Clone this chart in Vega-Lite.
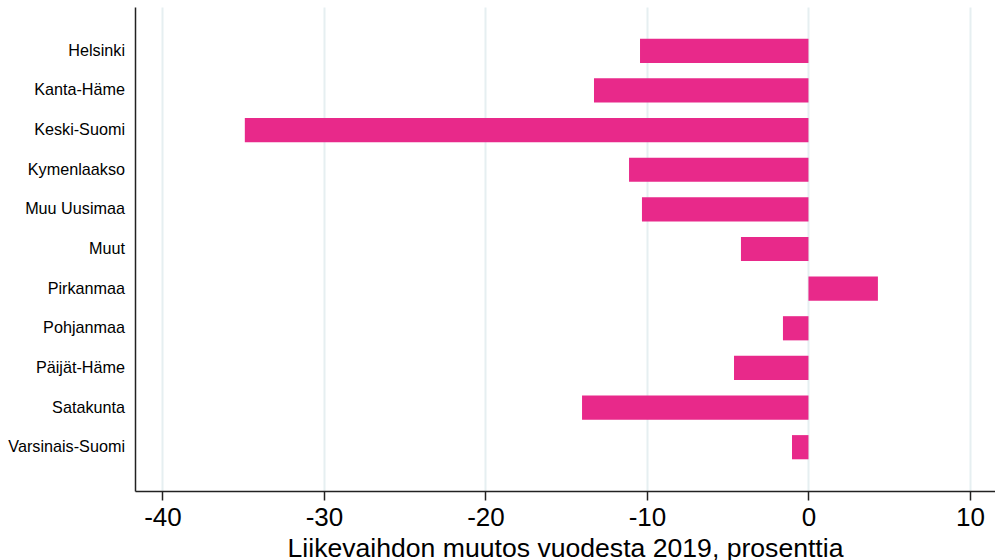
{
  "$schema": "https://vega.github.io/schema/vega-lite/v6.json",
  "autosize": {"type": "none"},
  "width": 860,
  "height": 484,
  "padding": {"left": 135, "top": 7, "right": 0, "bottom": 69},
  "background": "white",
  "config": {"view": {"stroke": null}, "font": "Liberation Sans"},
  "data": {"values": [
    {"alue": "Helsinki", "muutos": -10.43},
    {"alue": "Kanta-Häme", "muutos": -13.28},
    {"alue": "Keski-Suomi", "muutos": -34.9},
    {"alue": "Kymenlaakso", "muutos": -11.11},
    {"alue": "Muu Uusimaa", "muutos": -10.31},
    {"alue": "Muut", "muutos": -4.18},
    {"alue": "Pirkanmaa", "muutos": 4.3},
    {"alue": "Pohjanmaa", "muutos": -1.58},
    {"alue": "Päijät-Häme", "muutos": -4.61},
    {"alue": "Satakunta", "muutos": -14.02},
    {"alue": "Varsinais-Suomi", "muutos": -1.02}
  ]},
  "mark": {"type": "bar", "color": "#e8298a"},
  "encoding": {
    "y": {
      "field": "alue", "type": "nominal", "sort": null,
      "scale": {"paddingInner": 0.39, "paddingOuter": 0.8},
      "axis": {"title": null, "ticks": false, "grid": false, "domainColor": "#222", "domainWidth": 1.5,
               "labelFontSize": 16.2, "labelColor": "#000", "labelPadding": 10.5, "labelFont": "Liberation Sans"}
    },
    "x": {
      "field": "muutos", "type": "quantitative",
      "scale": {"domain": [-41.7, 11.55], "nice": false, "zero": false},
      "axis": {"values": [-40, -30, -20, -10, 0, 10], "title": "Liikevaihdon muutos vuodesta 2019, prosenttia",
               "labelExpr": "datum.value < 0 ? '-' + abs(datum.value) : '' + datum.value",
               "titleFontSize": 26.6, "titleFontWeight": "normal", "titleColor": "#000", "titlePadding": 5,
               "labelFontSize": 26, "labelColor": "#000", "labelPadding": 4, "labelFlush": false,
               "tickSize": 9, "tickColor": "#222", "tickWidth": 1.5, "domainColor": "#222", "domainWidth": 1.5,
               "gridColor": "#e6eff1", "gridWidth": 2}
    }
  }
}
